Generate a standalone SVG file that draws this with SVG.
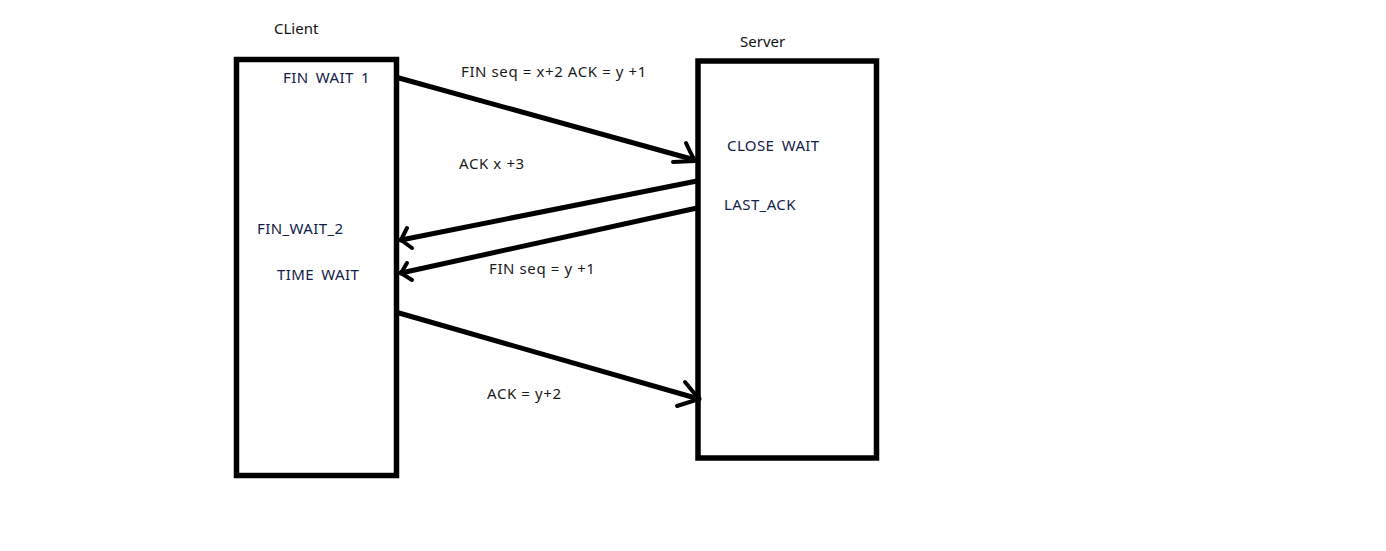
<svg xmlns="http://www.w3.org/2000/svg" width="1386" height="551" viewBox="0 0 1386 551">
<style>
.box{fill:none;stroke:#000;stroke-width:5.5}
.ln{fill:none;stroke:#000;stroke-width:5;stroke-linecap:round;stroke-linejoin:round}
.hd{fill:none;stroke:#000;stroke-width:4;stroke-linecap:round;stroke-linejoin:round}
text{font-family:"Noto Sans","Open Sans","Liberation Sans",sans-serif;font-size:15px}
.st{fill:#12204a;word-spacing:3px;letter-spacing:0.4px}
.msg{fill:#1a1a1a;letter-spacing:0.6px}
.ttl{fill:#111}
</style>
<rect width="1386" height="551" fill="#fff"/>
<g id="client">
<rect class="box" x="236.5" y="59.5" width="160" height="416"/>
<text class="ttl" x="274" y="34">CLient</text>
<text class="st" x="283" y="83">FIN WAIT 1</text>
<text class="st" x="257" y="234">FIN_WAIT_2</text>
<text class="st" x="277" y="280">TIME WAIT</text>
</g>
<g id="server">
<rect class="box" x="698" y="61" width="178.5" height="397"/>
<text class="ttl" x="740" y="47">Server</text>
<text class="st" x="727" y="151">CLOSE WAIT</text>
<text class="st" x="724" y="210">LAST_ACK</text>
</g>
<g id="connectors">
<path class="ln" d="M399 78 L695 160"/>
<path class="hd" d="M686 143 Q690 152 695 161 L673 162"/>
<text class="msg" x="461" y="77">FIN seq = x+2 ACK = y +1</text>
<path class="ln" d="M697 181 L401 240"/>
<path class="hd" d="M407 228 L401 240 L412 248"/>
<text class="msg" x="459" y="169">ACK x +3</text>
<path class="ln" d="M697 208 L401 273"/>
<path class="hd" d="M407 263 L401 273 L412 280"/>
<text class="msg" x="489" y="274">FIN seq = y +1</text>
<path class="ln" d="M399 313 L699 399"/>
<path class="hd" d="M685 382 L699 399 L677 406"/>
<text class="msg" x="487" y="399">ACK = y+2</text>
</g>
</svg>
